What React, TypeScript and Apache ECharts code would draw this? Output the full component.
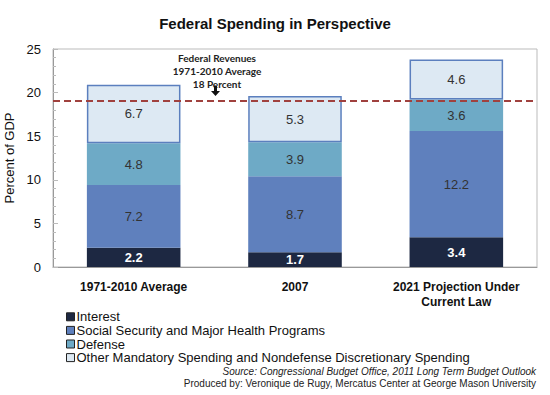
import React, { useEffect, useRef } from "react";
import * as echarts from "echarts";

const categories = ["1971-2010 Average", "2007", "2021 Projection Under\nCurrent Law"];
const interest = [2.2, 1.7, 3.4];
const socialSecurityHealth = [7.2, 8.7, 12.2];
const defense = [4.8, 3.9, 3.6];
const otherSpending = [6.7, 5.3, 4.6];
const revenueLine = 19.1;
const seriesNames = [
  "Interest",
  "Social Security and Major Health Programs",
  "Defense",
  "Other Mandatory Spending and Nondefense Discretionary Spending",
];
const yTicks = { min: 0, max: 25, interval: 5 };

const FONT = "'Liberation Sans', Arial, sans-serif";

export default function App() {
  const ref = useRef<HTMLDivElement>(null);
  useEffect(() => {
    if (!ref.current) return;
    const chart = echarts.init(ref.current, null, { renderer: "svg" });
    const labelDark = {
      show: true,
      position: "inside",
      color: "#333",
      fontSize: 13,
      fontFamily: FONT,
      formatter: (p: any) => p.value.toFixed(1),
    };
    chart.setOption({
      animation: false,
      backgroundColor: "#fff",
      title: {
        text: "Federal Spending in Perspective",
        left: "center",
        top: 11,
        textStyle: { fontSize: 15, fontWeight: "bold", color: "#111", fontFamily: FONT },
      },
      grid: {
        left: 53,
        right: 13,
        top: 49,
        bottom: 128,
        show: true,
        borderColor: "#bbb",
        borderWidth: 1,
        containLabel: false,
        outerBoundsMode: "none",
      },
      legend: {
        orient: "vertical",
        left: 66,
        top: 310,
        padding: 0,
        itemWidth: 8,
        itemHeight: 8,
        itemGap: 0,
        icon: "rect",
        data: seriesNames,
        itemStyle: { borderColor: "#222", borderWidth: 1 },
        textStyle: {
          fontSize: 13,
          lineHeight: 13.6,
          color: "#111",
          fontFamily: FONT,
          padding: [0, 0, 0, -3],
        },
      },
      xAxis: {
        type: "category",
        data: categories,
        axisTick: { show: false },
        axisLine: { lineStyle: { color: "#999" } },
        axisLabel: {
          interval: 0,
          fontSize: 12,
          fontWeight: "bold",
          color: "#111",
          fontFamily: FONT,
          margin: 12,
          lineHeight: 15,
        },
      },
      yAxis: {
        type: "value",
        min: yTicks.min,
        max: yTicks.max,
        interval: yTicks.interval,
        name: "Percent of GDP",
        nameLocation: "middle",
        nameGap: 30,
        nameTextStyle: { fontSize: 13, color: "#111", fontFamily: FONT },
        splitLine: { show: false },
        axisLine: { show: true, lineStyle: { color: "#999" } },
        axisTick: { show: true, inside: true, length: 5, lineStyle: { color: "#bbb" } },
        minorTick: { show: true, splitNumber: 5, length: 3, lineStyle: { color: "#bbb" } },
        axisLabel: { fontSize: 13, color: "#111", fontFamily: FONT, margin: 12 },
      },
      series: [
        {
          name: seriesNames[0],
          type: "bar",
          stack: "total",
          barWidth: "58%",
          data: interest,
          itemStyle: { color: "#1d2842" },
          label: { ...labelDark, color: "#fff", fontWeight: "bold" },
        },
        {
          name: seriesNames[1],
          type: "bar",
          stack: "total",
          data: socialSecurityHealth,
          itemStyle: { color: "#5f80bd" },
          label: labelDark,
        },
        {
          name: seriesNames[2],
          type: "bar",
          stack: "total",
          data: defense,
          itemStyle: { color: "#6eaac6" },
          label: labelDark,
        },
        {
          name: seriesNames[3],
          type: "bar",
          stack: "total",
          data: otherSpending,
          itemStyle: { color: "#dde9f3", borderColor: "#5b7fbe", borderWidth: 1.5 },
          label: labelDark,
          markLine: {
            silent: true,
            symbol: "none",
            label: { show: false },
            lineStyle: { color: "#a0413e", type: [7, 4], width: 2 },
            data: [{ yAxis: revenueLine }],
          },
        },
      ],
      graphic: [
        {
          type: "text",
          x: 217,
          y: 51,
          style: {
            text: "Federal Revenues\n1971-2010 Average\n18 Percent",
            fontSize: 10,
            fontWeight: "bold",
            fontFamily: "Lato, sans-serif",
            fill: "#222",
            align: "center",
            lineHeight: 13,
          },
        },
        {
          type: "polygon",
          shape: {
            points: [
              [214, 86],
              [217, 86],
              [217, 91],
              [220, 91],
              [215.5, 96],
              [211, 91],
              [214, 91],
            ],
          },
          style: { fill: "#111" },
        },
        {
          type: "text",
          right: 14,
          top: 366,
          style: {
            text: "Source: Congressional Budget Office, 2011 Long Term Budget Outlook",
            fontSize: 10,
            fontStyle: "italic",
            fontFamily: FONT,
            fill: "#222",
          },
        },
        {
          type: "text",
          right: 14,
          top: 378,
          style: {
            text: "Produced by: Veronique de Rugy, Mercatus Center at George Mason University",
            fontSize: 10,
            fontFamily: FONT,
            fill: "#222",
          },
        },
      ],
    });
    return () => chart.dispose();
  }, []);
  return <div ref={ref} style={{ width: 550, height: 395, position: "absolute", left: 0, top: 0 }} />;
}
